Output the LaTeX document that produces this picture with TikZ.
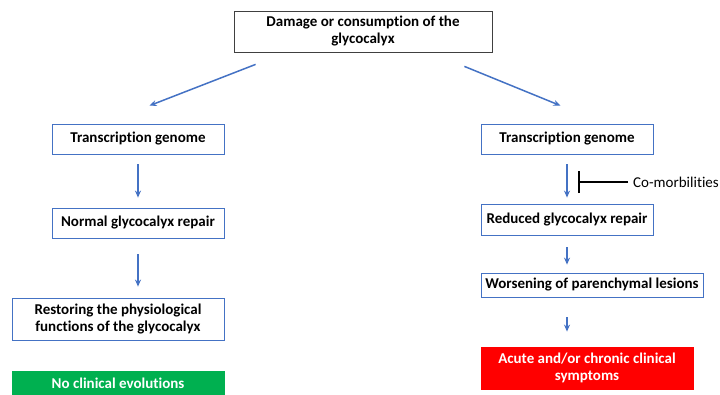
\documentclass[tikz,border=0pt]{standalone}
\usepackage{fontspec}
\setmainfont{Carlito}[Ligatures=NoCommon]
\usetikzlibrary{arrows.meta}
\definecolor{arrblue}{HTML}{4472C4}
\definecolor{okgreen}{HTML}{00B050}

\begin{document}
\begin{tikzpicture}[x=1pt,y=-1pt,
  box/.style={draw=arrblue,line width=0.8pt,align=center,inner sep=2pt,font=\fontsize{15}{17}\selectfont\bfseries},
  arr/.style={arrblue,line width=1.5pt,-{Stealth[length=7pt,width=6pt]}}]
\useasboundingbox (0,0) rectangle (720,394);
\node[box,draw=black!75,minimum width=258pt,minimum height=41pt] (dmg) at (363,31.5) {Damage or consumption of the\\glycocalyx};

\node[box,minimum width=172pt,minimum height=30pt] (tl) at (138,139) {Transcription genome};
\node[box,minimum width=172pt,minimum height=30pt] (nl) at (138,223) {Normal glycocalyx repair};
\node[box,minimum width=212pt,minimum height=42pt] (rl) at (118,319) {Restoring the physiological\\functions of the glycocalyx};
\node[box,draw=okgreen,fill=okgreen,text=white,minimum width=212pt,minimum height=24pt] (gl) at (118,383) {No clinical evolutions};

\node[box,minimum width=172pt,minimum height=30pt] (tr) at (567,139) {Transcription genome};
\node[box,minimum width=172pt,minimum height=31pt] (rr) at (567,219.5) {Reduced glycocalyx repair};
\node[box,minimum width=222pt,minimum height=24pt] (wr) at (592,285) {Worsening of parenchymal lesions};
\node[box,draw=red,fill=red,text=white,minimum width=212pt,minimum height=42pt] (ar) at (587,368) {Acute and/or chronic clinical\\symptoms};
\node[anchor=west,inner sep=0pt,font=\fontsize{15}{17}\selectfont] (co) at (633,182) {Co-morbilities};

\draw[arr] ([xshift=22pt,yshift=-12pt]dmg.south west) -- ([xshift=98pt,yshift=18pt]tl.north west);
\draw[arr] ([xshift=-28pt,yshift=-14pt]dmg.south east) -- ([xshift=-93pt,yshift=18pt]tr.north east);
\draw[arr,shorten <=10pt,shorten >=10pt] (tl) -- (nl);
\draw[arr,shorten <=16pt,shorten >=11pt] (nl.south) -- (nl.south |- rl.north);
\draw[arr,shorten <=10pt,shorten >=6pt] (tr) -- (rr);
\draw[arr,shorten <=12pt,shorten >=8pt] (rr) -- (rr.south |- wr.north);
\draw[arr,shorten <=20pt,shorten >=15pt] (rr.south |- wr.south) -- (rr.south |- ar.north);
\draw[line width=1.5pt,-{Bar[width=22pt]}] ([xshift=-5pt]co.west) -- ++(-50,0);
\end{tikzpicture}
\end{document}
